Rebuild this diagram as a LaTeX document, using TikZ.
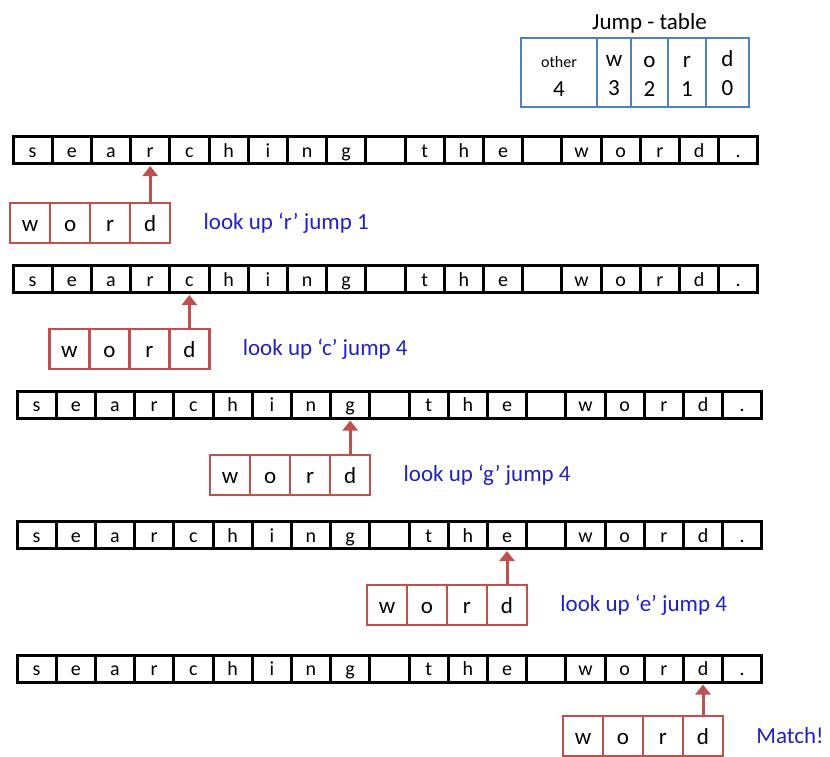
\documentclass[tikz,border=0pt]{standalone}
\usepackage{fontspec}
\setmainfont{Carlito}
\usetikzlibrary{arrows.meta,positioning}
\definecolor{wordred}{RGB}{192,80,77}
\definecolor{tableblue}{RGB}{79,129,189}
\definecolor{noteblue}{RGB}{32,32,200}
\newcommand{\tabstrut}{\rule{0pt}{18pt}}

\begin{document}
\begin{tikzpicture}[
    x=1pt,y=-1pt,
    textcell/.style={draw=black,line width=3pt,minimum width=39.2pt,minimum height=27pt,inner sep=0pt,
        text height=14pt,text depth=0pt,font=\fontsize{20}{20}\selectfont},
    wordcell/.style={draw=wordred,line width=2.5pt,fill=white,minimum width=40pt,minimum height=40pt,inner sep=0pt,
        text height=16pt,text depth=0pt,font=\fontsize{23}{23}\selectfont},
    tablecell/.style={draw=tableblue,line width=2.8pt,minimum height=69pt,inner sep=0pt,outer sep=0pt,
        align=center,font=\fontsize{23}{29}\selectfont},
    note/.style={text=noteblue,font=\fontsize{23}{23}\selectfont,inner sep=0pt},
    jump/.style={-{Triangle[width=15pt,length=10pt]},draw=wordred,line width=3pt,shorten >=1pt}
]
\useasboundingbox (0,0) rectangle (830,756);

% jump table
\node[tablecell,minimum width=76pt] (jother) at (559,72.5) {\tabstrut{\fontsize{16}{16}\selectfont other}\\4};
\node[tablecell,minimum width=34pt,right=0pt of jother] (jw) {\tabstrut w\\3};
\node[tablecell,minimum width=37pt,right=0pt of jw] (jo) {\tabstrut o\\2};
\node[tablecell,minimum width=38pt,right=0pt of jo] (jr) {\tabstrut r\\1};
\node[tablecell,minimum width=43pt,right=0pt of jr] (jd) {\tabstrut d\\0};
\node[font=\fontsize{23}{23}\selectfont,inner sep=0pt,above=5pt of jo] (jtitle) {Jump - table};

% text rows, pattern windows, arrows and notes
\foreach \row/\y/\x/\pos/\wy/\msg in {1/150/13/3/223/look up ‘r’ jump 1,2/279/13/4/349/look up ‘c’ jump 4,
    3/404.5/17/8/475/look up ‘g’ jump 4,4/535/17/12/605/look up ‘e’ jump 4,5/668.5/17/17/736/Match!}{
  \foreach \ch [count=\k from 0] in {s,e,a,r,c,h,i,n,g, ,t,h,e, ,w,o,r,d,.}
    \node[textcell] (r\row-\k) at ({\x+(\k+0.5)*39.2},\y) {\ch};
  \foreach \ch [count=\m from 0] in {w,o,r,d}
    \node[wordcell] (w\row-\m) at ({\x+(\pos+0.5)*39.2+(\m-3)*40},\wy) {\ch};
  \draw[jump] (w\row-3) -- (r\row-\pos);
  \node[note,anchor=west] (n\row) at ([xshift=32pt]w\row-3.east) {\msg};
}
\end{tikzpicture}
\end{document}
